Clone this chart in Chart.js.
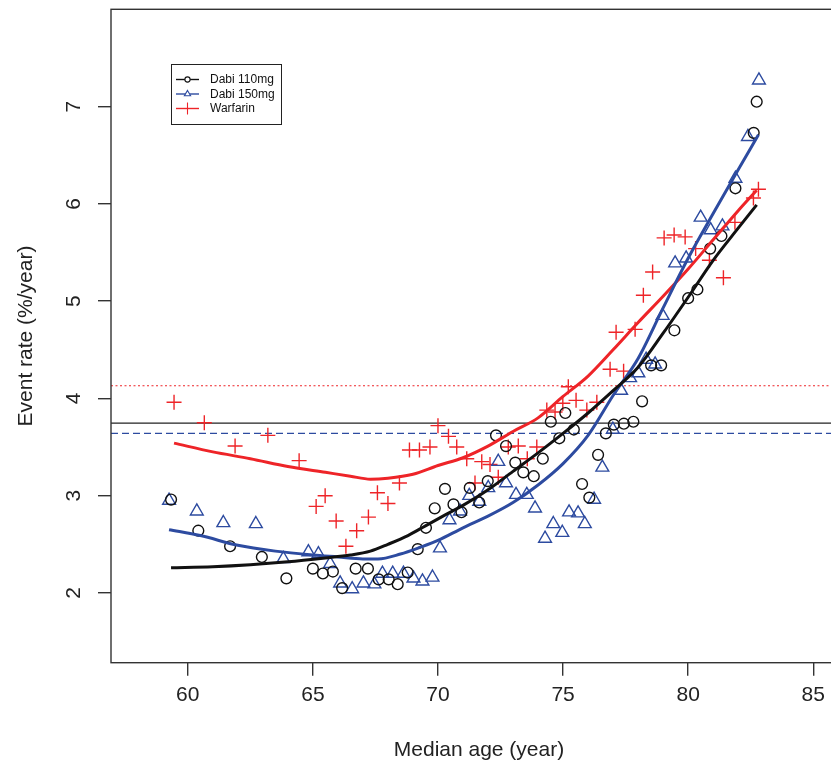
<!DOCTYPE html>
<html><head><meta charset="utf-8">
<script src="https://cdn.jsdelivr.net/npm/chart.js@4.4.1/dist/chart.umd.min.js"></script>
<style>html,body{margin:0;padding:0;overflow:hidden;background:#fff;width:831px;height:765px}canvas{display:block}</style>
</head><body><canvas id="c" width="860" height="765"></canvas>
<script>
// ---- data ----
const seriesNames = ['Dabi 110mg', 'Dabi 150mg', 'Warfarin'];
const xTicks = [60, 65, 70, 75, 80, 85];
const yTicks = [2, 3, 4, 5, 6, 7];
const xTitle = 'Median age (year)';
const yTitle = 'Event rate (%/year)';

const dabi110Age = [59.33,60.42,61.69,62.96,63.94,65.0,65.4,65.8,66.17,66.71,67.2,67.63,68.03,68.39,68.79,69.19,69.52,69.87,70.28,70.62,70.94,71.27,71.65,71.99,72.32,72.72,73.09,73.41,73.83,74.19,74.51,74.85,75.09,75.43,75.76,76.05,76.4,76.71,77.03,77.43,77.81,78.16,78.52,78.92,79.45,80.0,80.37,80.88,81.33,81.89,82.62,82.74];
const dabi110Rate = [2.96,2.64,2.48,2.37,2.15,2.25,2.2,2.22,2.05,2.25,2.25,2.14,2.14,2.09,2.21,2.45,2.67,2.87,3.07,2.91,2.83,3.08,2.93,3.15,3.62,3.51,3.34,3.24,3.2,3.38,3.76,3.59,3.85,3.68,3.12,2.98,3.42,3.64,3.73,3.74,3.76,3.97,4.34,4.34,4.70,5.03,5.12,5.54,5.67,6.16,6.73,7.05];

const dabi150Age = [59.25,60.36,61.42,62.72,63.82,64.82,65.22,65.69,66.09,66.57,67.02,67.46,67.78,68.19,68.62,69.02,69.38,69.78,70.08,70.46,70.88,71.25,71.65,72.01,72.41,72.72,73.12,73.55,73.88,74.28,74.61,74.97,75.24,75.6,75.87,76.24,76.57,76.99,77.32,77.68,78.01,78.32,78.68,78.98,79.48,79.92,80.5,80.9,81.37,81.89,82.39,82.83];
const dabi150Rate = [2.95,2.84,2.72,2.71,2.35,2.42,2.40,2.30,2.10,2.04,2.10,2.09,2.20,2.20,2.20,2.15,2.12,2.16,2.46,2.75,2.84,3.0,2.94,3.08,3.35,3.13,3.01,3.01,2.87,2.56,2.71,2.62,2.83,2.82,2.71,2.96,3.29,3.68,4.08,4.21,4.26,4.40,4.35,4.85,5.39,5.44,5.86,5.73,5.77,6.26,6.69,7.27];

const warfarinAge = [59.45,60.66,61.89,63.2,64.45,65.13,65.49,65.93,66.32,66.75,67.22,67.58,68.0,68.46,68.86,69.26,69.68,70.0,70.42,70.75,71.15,71.48,71.75,72.08,72.41,72.81,73.21,73.57,73.95,74.35,74.68,74.99,75.21,75.52,75.95,76.35,76.88,77.12,77.42,77.88,78.21,78.58,79.04,79.44,79.88,80.30,80.85,81.41,81.87,82.61,82.81];
const warfarinRate = [3.96,3.75,3.51,3.62,3.36,2.89,3.0,2.74,2.48,2.64,2.78,3.03,2.92,3.13,3.47,3.47,3.50,3.72,3.61,3.50,3.38,3.13,3.35,3.32,3.19,3.50,3.51,3.38,3.50,3.88,3.86,3.95,4.12,3.98,3.88,3.96,4.30,4.68,4.28,4.71,5.06,5.30,5.65,5.68,5.66,5.54,5.42,5.24,5.81,6.06,6.15];

// smoothed fits
const dabi110FitAge  = [59.33,61.0,62.5,64.0,65.5,66.5,67.3,68.0,68.8,69.5,70.2,71.0,72.0,73.0,74.0,75.0,76.0,77.0,78.0,79.0,80.0,81.0,82.0,82.74];
const dabi110FitRate = [2.26,2.27,2.29,2.32,2.36,2.39,2.43,2.50,2.59,2.69,2.79,2.90,3.06,3.25,3.44,3.64,3.85,4.08,4.32,4.67,5.04,5.42,5.75,5.99];
const dabi150FitAge  = [59.25,60.5,62.0,63.5,65.0,66.0,67.0,67.6,68.5,69.3,70.0,71.0,72.0,73.0,74.0,75.0,76.0,77.0,78.0,79.0,80.0,81.0,82.0,82.81];
const dabi150FitRate = [2.65,2.59,2.49,2.43,2.39,2.37,2.35,2.35,2.40,2.47,2.54,2.67,2.79,2.93,3.11,3.33,3.62,4.03,4.41,4.93,5.44,5.90,6.35,6.71];
const warfarinFitAge  = [59.45,61.0,62.5,64.0,65.5,66.5,67.3,68.0,69.0,70.0,71.0,72.0,73.0,74.0,75.0,76.0,77.0,78.0,79.0,80.0,81.0,82.0,82.74];
const warfarinFitRate = [3.54,3.45,3.38,3.30,3.24,3.20,3.17,3.18,3.22,3.31,3.39,3.51,3.66,3.80,4.02,4.23,4.50,4.78,5.05,5.33,5.63,5.93,6.14];

// overall mean rates (horizontal reference lines)
const dabi110Mean = 3.745;
const dabi150Mean = 3.64;
const warfarinMean = 4.13;

const xRange = [56.93, 86.35];
const yRange = [1.283, 8.0];

// ---- styles ----
const BLACK = '#111';
const BLUE = 'rgb(45,75,160)';
const RED = 'rgb(238,36,40)';
const FONT = "'Liberation Sans', Arial, Helvetica, sans-serif";
Chart.defaults.font.family = FONT;

const pts = (xs, ys) => xs.map((x, i) => ({x, y: ys[i]}));
const hline = v => [{x: xRange[0], y: v}, {x: xRange[1], y: v}];

const framePlugin = {
  id: 'frame',
  afterDraw(chart) {
    const {ctx, chartArea: a, scales} = chart;
    ctx.save();
    ctx.strokeStyle = '#333';
    ctx.lineWidth = 1.4;
    ctx.strokeRect(a.left, a.top, a.right - a.left, a.bottom - a.top);
    // y tick labels rotated
    ctx.fillStyle = '#222';
    ctx.font = '21px ' + FONT;
    ctx.textAlign = 'center';
    ctx.textBaseline = 'middle';
    yTicks.forEach(v => {
      const py = scales.y.getPixelForValue(v);
      ctx.save();
      ctx.translate(74, py);
      ctx.rotate(-Math.PI / 2);
      ctx.fillText(String(v), 0, 0);
      ctx.restore();
    });
    // legend
    const lx = 171, ly = 64, lw = 110, lh = 60;
    ctx.fillStyle = '#fff';
    ctx.fillRect(lx, ly, lw, lh);
    ctx.strokeStyle = '#222';
    ctx.lineWidth = 1;
    ctx.strokeRect(lx + 0.5, ly + 0.5, lw, lh);
    const colors = [BLACK, BLUE, RED];
    const rows = [79.5, 94, 108.5];
    ctx.font = '12px ' + FONT;
    ctx.textAlign = 'left';
    seriesNames.forEach((name, i) => {
      const y = rows[i];
      ctx.strokeStyle = colors[i];
      ctx.lineWidth = 1.4;
      ctx.beginPath();
      ctx.moveTo(176, y); ctx.lineTo(199, y);
      ctx.stroke();
      ctx.lineWidth = 1.1;
      ctx.beginPath();
      if (i === 0) {
        ctx.fillStyle = '#fff';
        ctx.arc(187.5, y, 2.6, 0, Math.PI * 2);
        ctx.fill();
        ctx.stroke();
      } else if (i === 1) {
        const r = 3.6;
        ctx.moveTo(187.5, y - r);
        ctx.lineTo(187.5 + r * 0.866, y + r * 0.5);
        ctx.lineTo(187.5 - r * 0.866, y + r * 0.5);
        ctx.closePath();
        ctx.fillStyle = '#fff';
        ctx.fill();
        ctx.stroke();
      } else {
        ctx.moveTo(187.5, y - 6); ctx.lineTo(187.5, y + 6);
        ctx.stroke();
      }
      ctx.fillStyle = '#111';
      ctx.fillText(name, 210, y + 0.5);
    });
    ctx.restore();
  }
};

new Chart(document.getElementById('c'), {
  type: 'scatter',
  data: {
    datasets: [
      {label: 'wm', data: hline(warfarinMean), showLine: true, pointRadius: 0, borderColor: RED, borderWidth: 1.2, borderDash: [2, 2.5], order: 5},
      {label: 'bm', data: hline(dabi150Mean), showLine: true, pointRadius: 0, borderColor: BLUE, borderWidth: 1.2, borderDash: [7, 4], order: 5},
      {label: 'km', data: hline(dabi110Mean), showLine: true, pointRadius: 0, borderColor: '#222', borderWidth: 1.3, order: 5},
      {label: seriesNames[0], data: pts(dabi110Age, dabi110Rate), pointStyle: 'circle', pointRadius: 5.4, borderColor: BLACK, backgroundColor: 'rgba(0,0,0,0)', pointBorderWidth: 1.4, order: 3},
      {label: seriesNames[1], data: pts(dabi150Age, dabi150Rate), pointStyle: 'triangle', pointRadius: 7.4, borderColor: BLUE, backgroundColor: 'rgba(0,0,0,0)', pointBorderWidth: 1.4, order: 3},
      {label: seriesNames[2], data: pts(warfarinAge, warfarinRate), pointStyle: 'cross', pointRadius: 7.5, borderColor: RED, backgroundColor: RED, pointBorderWidth: 1.4, order: 3},
      {label: 'f1', data: pts(dabi110FitAge, dabi110FitRate), showLine: true, pointRadius: 0, borderColor: BLACK, borderWidth: 3, cubicInterpolationMode: 'monotone', order: 1},
      {label: 'f2', data: pts(dabi150FitAge, dabi150FitRate), showLine: true, pointRadius: 0, borderColor: BLUE, borderWidth: 3, cubicInterpolationMode: 'monotone', order: 1},
      {label: 'f3', data: pts(warfarinFitAge, warfarinFitRate), showLine: true, pointRadius: 0, borderColor: RED, borderWidth: 3, cubicInterpolationMode: 'monotone', order: 1}
    ]
  },
  options: {
    responsive: false,
    animation: false,
    devicePixelRatio: 1,
    layout: {padding: {left: 0, top: 9.3, right: 860 - 847, bottom: 0}},
    plugins: {legend: {display: false}, tooltip: {enabled: false}},
    scales: {
      x: {
        type: 'linear', min: xRange[0], max: xRange[1],
        afterBuildTicks: s => { s.ticks = xTicks.map(v => ({value: v})); },
        afterFit: s => { s.height = 765 - 662.7; },
        grid: {drawOnChartArea: false, drawTicks: true, tickLength: 13, tickColor: '#333', lineWidth: 1.4},
        border: {display: false},
        ticks: {font: {size: 21}, color: '#222', padding: 7, maxRotation: 0, autoSkip: false},
        title: {display: true, text: xTitle, font: {size: 21}, color: '#222', padding: {top: 0, bottom: 2.5}}
      },
      y: {
        type: 'linear', min: yRange[0], max: yRange[1],
        afterBuildTicks: s => { s.ticks = yTicks.map(v => ({value: v})); },
        afterFit: s => { s.width = 111; },
        grid: {drawOnChartArea: false, drawTicks: true, tickLength: 13, tickColor: '#333', lineWidth: 1.4},
        border: {display: false},
        ticks: {display: false},
        title: {display: true, text: yTitle, font: {size: 21}, color: '#222', padding: {top: 14, bottom: 0}}
      }
    }
  },
  plugins: [framePlugin]
});
</script>
</body></html>
